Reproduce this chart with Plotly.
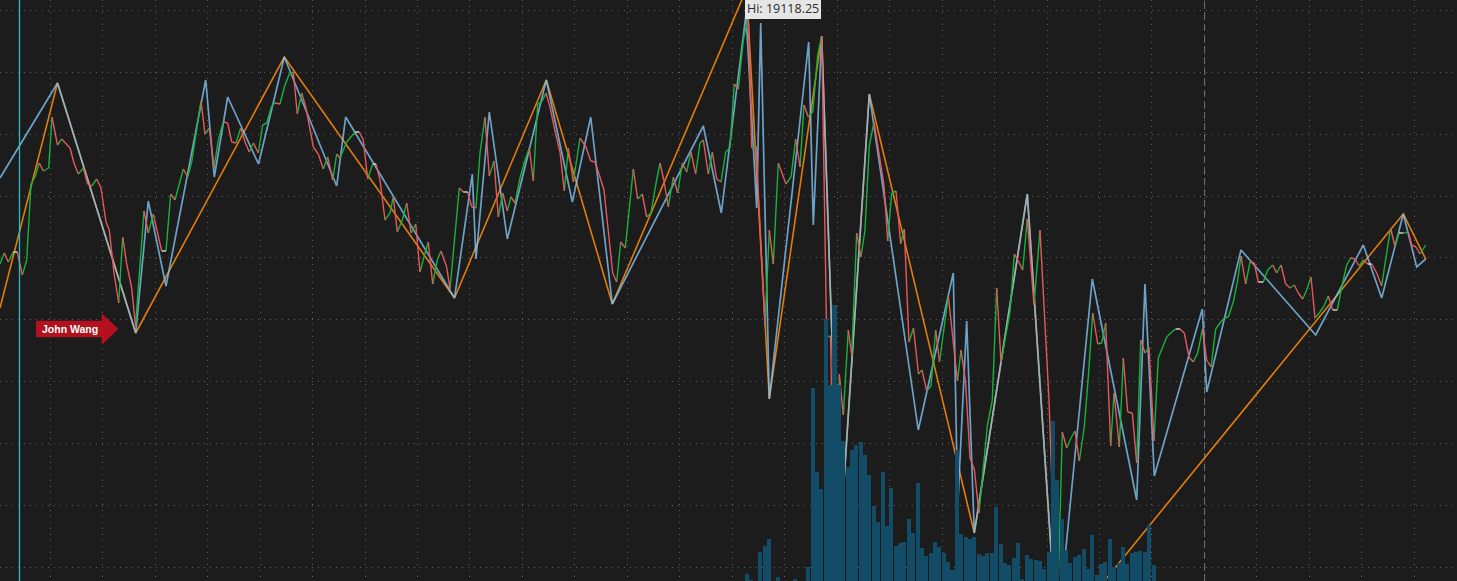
import plotly.graph_objects as go

W, H = 1457, 581
BG = "#1c1c1c"

# ---------------- data ----------------
# close line (bar time, price)
close_t = [0, 4.3, 8.3, 13.3, 17.3, 22.3, 26.7, 31, 35, 39.3, 43.3, 48.7, 52, 57.5, 61.7, 70, 74, 78.3, 83.3, 87.7,
           91.7, 96.7, 101, 106, 109.3, 114, 118.7, 122.7, 126.7, 131.7, 135.5, 144, 148.3, 153.3, 161.7, 166, 170.7,
           175, 183.3, 187.7, 191.7, 201, 205, 209.3, 214, 218.3, 223.3, 227.7, 231.7, 236, 240.7, 245, 249.3, 253.3,
           258.3, 262.7, 266.7, 271.7, 275, 280, 284.3, 289.3, 293.3, 297.3, 301.7, 306, 313.3, 318.3, 323.3, 327.7,
           332.7, 336.7, 340, 346.7, 355, 359.3, 363.3, 367.7, 372.7, 376, 380, 385, 390, 393.3, 397.3, 402.3, 406.7,
           411, 415.7, 420, 425, 428.3, 432.7, 437.3, 441, 446.7, 450, 459.3, 463.3, 467.7, 471.7, 476, 480, 485,
           489.3, 494, 498.3, 502.7, 507.3, 511, 515, 520, 525, 529.3, 533.3, 537.7, 541.7, 546, 550, 555, 560, 564.3,
           568.3, 573.3, 580, 586, 590.7, 595, 599.3, 604, 608.3, 612.7, 616.7, 620.7, 625.3, 633.3, 637.7, 642.3,
           646.7, 651, 655.7, 660, 664, 668.3, 673.3, 677.7, 682.3, 686.7, 691, 695.7, 700, 703.3, 708.3, 712.3,
           716.7, 721, 725.7, 730, 734.3, 738.3, 743.3, 748.3, 751.7, 756, 765, 769.3, 773.3, 778.3, 786, 791, 795.7,
           800, 804, 808.3, 812.7, 817.7, 821.7, 826.7, 830.5, 834.5, 839.3, 843.3, 848.3, 851.7, 856.7, 861, 865,
           869.3, 874, 884, 887.7, 891.7, 896, 900.7, 904.3, 909, 913.5, 918.5, 922, 926.7, 931, 935.7, 939.5, 948.3,
           957.5, 961, 965.5, 970, 974.3, 979, 987.3, 992.3, 996.7, 1001, 1010, 1014.3, 1018.3, 1022.7, 1027.3, 1034,
           1040, 1049, 1057, 1062.3, 1066.7, 1071, 1075, 1079.3, 1084.3, 1088.3, 1092.7, 1097.7, 1101.7, 1105.7,
           1110.7, 1114, 1119.3, 1123.3, 1127.7, 1132.3, 1136.7, 1140.7, 1145, 1149, 1154, 1158.3, 1166.7, 1171.7,
           1175.7, 1180, 1184.3, 1189, 1193.3, 1197.7, 1202.5, 1206.7, 1211, 1215.7, 1220, 1224.3, 1228.3, 1233.3,
           1237.7, 1241, 1245.7, 1250, 1254.3, 1258.3, 1263.3, 1267.7, 1272.7, 1276.7, 1281, 1285.7, 1290, 1294.3,
           1298.3, 1302.7, 1306.7, 1311, 1315, 1319.3, 1324, 1328.3, 1332.7, 1337.3, 1341.7, 1346.7, 1350.7, 1355,
           1359.3, 1363.3, 1367.7, 1371.7, 1376.7, 1381.7, 1386, 1390.7, 1395, 1399, 1403.3, 1408.3, 1411.7, 1416,
           1420, 1425.7]
close_p = [18868, 18879, 18870, 18880, 18880, 18857, 18872, 18948, 18955, 18969, 18961, 18964, 19015, 18987, 18993,
           18984, 18969, 18958, 18964, 18948, 18946, 18953, 18944, 18910, 18902, 18859, 18829, 18895, 18868, 18844,
           18806, 18921, 18899, 18918, 18881, 18881, 18938, 18932, 18963, 18955, 18970, 19031, 18998, 19004, 18964,
           18992, 19010, 19009, 18990, 18989, 19004, 18990, 18980, 18989, 18979, 19007, 19009, 19026, 19029, 19028,
           19045, 19058, 19060, 19018, 19039, 19024, 18985, 18978, 18963, 18975, 18952, 18978, 18974, 18990, 19000,
           19000, 18992, 18953, 18968, 18968, 18952, 18912, 18919, 18935, 18900, 18912, 18929, 18899, 18908, 18860,
           18879, 18890, 18848, 18872, 18881, 18865, 18843, 18944, 18940, 18940, 18925, 18924, 18979, 19015, 18956,
           18971, 18915, 18939, 18921, 18935, 18929, 18954, 18972, 18984, 18951, 19028, 19030, 19039, 19025, 19001,
           18980, 18941, 18984, 18950, 18994, 18985, 18971, 18970, 18957, 18942, 18901, 18859, 18850, 18890, 18884,
           18963, 18933, 18938, 18915, 18919, 18947, 18969, 18951, 18925, 18955, 18939, 18969, 18960, 18980, 18958,
           18989, 18992, 18958, 18980, 18953, 18950, 18980, 18984, 19048, 19043, 19092, 19115, 18984, 18986, 18806,
           18902, 18868, 18969, 18948, 18955, 18993, 18965, 19027, 19015, 19020, 19077, 19096, 18795, 18796, 18590,
           18758, 18717, 18802, 18777, 18899, 18875, 18902, 18986, 19010, 18947, 18891, 18939, 18941, 18888, 18903,
           18790, 18804, 18758, 18762, 18741, 18746, 18802, 18770, 18836, 18751, 18782, 18751, 18674, 18663, 18619,
           18706, 18732, 18844, 18770, 18820, 18878, 18871, 18862, 18913, 18827, 18902, 18732, 18502, 18700, 18684,
           18694, 18701, 18671, 18705, 18755, 18819, 18788, 18789, 18809, 18686, 18739, 18685, 18774, 18720, 18719,
           18669, 18792, 18779, 18785, 18691, 18774, 18795, 18800, 18803, 18803, 18799, 18775, 18770, 18779, 18803,
           18772, 18765, 18803, 18809, 18814, 18815, 18830, 18852, 18876, 18848, 18870, 18869, 18850, 18850, 18862,
           18867, 18859, 18867, 18848, 18844, 18847, 18839, 18833, 18842, 18855, 18814, 18819, 18826, 18836, 18822,
           18822, 18845, 18867, 18874, 18873, 18866, 18872, 18868, 18868, 18859, 18846, 18875, 18904, 18885, 18899,
           18899, 18900, 18887, 18885, 18878, 18887]

# fast zigzag (blue)
zz_fast_t = [0, 57.5, 135.7, 148.3, 166, 205.7, 214.3, 227.7, 258.5, 284.3, 336.7, 345.7, 454.5, 472.3, 476, 489.3,
             507.3, 546.3, 572.3, 590.7, 612.3, 703.3, 721.3, 746, 756.7, 760.7, 769.3, 808.7, 813.3, 821.7, 839.3,
             869.3, 918.3, 953.3, 957.7, 966.7, 974.3, 1027.3, 1057, 1092.3, 1136.7, 1145, 1154.3, 1202.3, 1206.7,
             1241, 1315.7, 1363.3, 1381.7, 1403.3, 1416.7, 1425.7]
zz_fast_p = [18954, 19049, 18799, 18931, 18846, 19052, 18955, 19035, 18968, 19075, 18946, 19015, 18834, 18958, 18873,
             19020, 18893, 19052, 18930, 19015, 18828, 19006, 18919, 19118, 18924, 19109, 18733, 19090, 18907, 19096,
             18579, 19038, 18702, 18859, 18625, 18811, 18599, 18938, 18493, 18853, 18632, 18848, 18656, 18823, 18740,
             18882, 18797, 18887, 18834, 18918, 18865, 18873]

# slow zigzag (orange)
zz_slow_t = [0, 57.5, 135.7, 284.3, 454.5, 546.3, 612.3, 746.5, 769.3, 821.7, 839.3, 869.3, 974.3, 1027.3, 1057,
             1403.3, 1425.7]
zz_slow_p = [18824, 19049, 18799, 19075, 18834, 19052, 18828, 19143, 18733, 19096, 18579, 19038, 18599, 18938, 18493,
             18918, 18873]

# volume bars (from first visible bar)
volume = [7, 1, 0, 29, 35, 42, 0, 4, 0, 0, 0, 2, 0, 0, 14, 193, 109, 92, 262, 196, 276, 196, 140, 114, 131, 136, 139,
          126, 106, 75, 59, 109, 55, 93, 35, 38, 39, 62, 48, 98, 33, 25, 28, 39, 34, 28, 19, 11, 131, 47, 44, 42, 44,
          27, 25, 28, 28, 74, 37, 18, 16, 23, 38, 2, 26, 22, 21, 20, 12, 29, 160, 101, 62, 31, 18, 24, 26, 32, 12, 46,
          6, 17, 19, 42, 14, 18, 34, 17, 28, 29, 30, 29, 56, 16]
VOL_T0 = 747.1
BAR_STEP = 4.37

HI_TEXT = "Hi: 19118.25"
TAG_TEXT = "John Wang"

UP, DOWN, FLAT = "#19b23a", "#e6585c", "#e6d8d8"
BLUE, ORANGE, VOLC = "#82c4f4", "#e27d0c", "#134c66"

# ---------------- figure ----------------
fig = go.Figure()

vol_t = [VOL_T0 + i * BAR_STEP for i in range(len(volume))]
fig.add_trace(go.Bar(x=vol_t, y=volume, yaxis="y2", width=BAR_STEP * 0.92,
                     marker=dict(color=VOLC, line=dict(width=0)), hoverinfo="skip"))

fig.add_trace(go.Scatter(x=zz_slow_t, y=zz_slow_p, mode="lines",
                         line=dict(color=ORANGE, width=1.6), hoverinfo="skip"))
fig.add_trace(go.Scatter(x=zz_fast_t, y=zz_fast_p, mode="lines", opacity=0.8,
                         line=dict(color=BLUE, width=1.7), hoverinfo="skip"))

segs = {UP: ([], []), DOWN: ([], []), FLAT: ([], [])}
for i in range(len(close_t) - 1):
    a, b = close_p[i], close_p[i + 1]
    c = UP if b > a else (DOWN if b < a else FLAT)
    segs[c][0].extend([close_t[i], close_t[i + 1], None])
    segs[c][1].extend([a, b, None])
for c, (xs, ys) in segs.items():
    fig.add_trace(go.Scatter(x=xs, y=ys, mode="lines", line=dict(color=c, width=1.4),
                             connectgaps=False, hoverinfo="skip"))

# high marker bubble
hi_i = max(range(len(close_p)), key=lambda i: close_p[i])
fig.add_annotation(x=close_t[hi_i], y=close_p[hi_i], xref="x", yref="y", text=HI_TEXT,
                   showarrow=True, ax=35, ay=-9, arrowhead=0, arrowwidth=2, arrowcolor="#e6e6e6",
                   bgcolor="#e6e6e6", bordercolor="#e6e6e6", borderwidth=1, borderpad=1,
                   font=dict(family="Open Sans", size=12.5, color="#2c2c2c"))


def pp(x, y):
    return f"{x / W:.5f},{1 - y / H:.5f}"


tag_path = ("M " + pp(36, 320.7) + " L " + pp(101.7, 320.7) + " L " + pp(101.7, 313.3) + " L " +
            pp(118.3, 329) + " L " + pp(101.7, 345) + " L " + pp(101.7, 337.3) + " L " + pp(36, 337.3) + " Z")
fig.add_shape(type="path", path=tag_path, xref="paper", yref="paper",
              fillcolor="#b3111e", line=dict(width=0), layer="above")
fig.add_annotation(x=39.5 / W, y=1 - 329 / H, xref="paper", yref="paper", text="<b>" + TAG_TEXT + "</b>",
                   xanchor="left", yanchor="middle", showarrow=False,
                   font=dict(family="Liberation Sans, Arial", size=10.5, color="#ffffff"))

# vertical markers
fig.add_shape(type="line", x0=19.5, x1=19.5, y0=0, y1=1, xref="x", yref="paper",
              line=dict(color="#2cbccb", width=1.3), layer="above")
fig.add_shape(type="line", x0=1204.6, x1=1204.6, y0=0, y1=1, xref="x", yref="paper",
              line=dict(color="#767676", width=1, dash="7px,4px"), layer="below")

grid = dict(showgrid=True, gridcolor="#5c5c5c", gridwidth=1, griddash="1px,5px",
            showticklabels=False, ticks="", zeroline=False, showline=False, tickmode="linear")
fig.update_layout(
    width=W, height=H, margin=dict(l=0, r=0, t=0, b=0),
    paper_bgcolor=BG, plot_bgcolor=BG, showlegend=False, bargap=0,
    xaxis=dict(range=[0, W], tick0=50.3, dtick=52.46, **grid),
    yaxis=dict(range=[18551, 19132], tick0=19121.7, dtick=61.9, **grid),
    yaxis2=dict(range=[0, H], overlaying="y", visible=False, showgrid=False),
)

fig.write_html("out.html", config={"displayModeBar": False},
               post_script="document.body.style.margin='0';document.body.style.background='#1c1c1c';")
